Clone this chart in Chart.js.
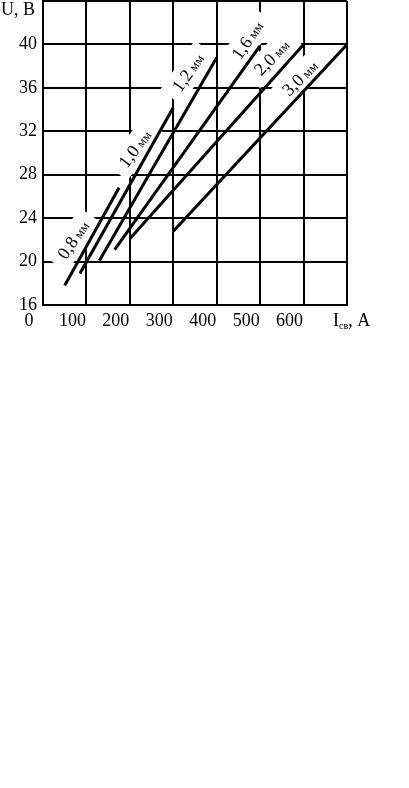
<!DOCTYPE html>
<html>
<head>
<meta charset="utf-8">
<script src="https://cdn.jsdelivr.net/npm/chart.js@4.4.1/dist/chart.umd.min.js"></script>
<style>
    body { margin: 0; background: #fff; }
    #wrap { position: relative; width: 409px; height: 336px; }
</style>
</head>
<body>
<div id="wrap"><canvas id="weldChart"></canvas></div>
<script>
// Electrode wire diameters, one line each
const diameters = ['0,8', '1,0', '1,2', '1,6', '2,0', '3,0'];
// Welding current (A) at both ends of each line
const currentStart = [50, 85, 130, 165, 200, 300];
const currentEnd = [175, 300, 400, 500, 600, 700];
// Arc voltage (V) at both ends of each line
const voltageStart = [17.8, 18.9, 20.1, 21.1, 22.1, 22.8];
const voltageEnd = [26.8, 34.2, 38.8, 39.9, 40, 40];
// Axis ticks
const currentTicks = [0, 100, 200, 300, 400, 500, 600, 700];
const voltageTicks = [16, 20, 24, 28, 32, 36, 40, 44];

// Where the diameter labels sit (data units) and their tilt
const labelAt = [[70, 22], [212, 30.4], [334, 37.4], [471, 40.4], [527, 38.8], [592, 36.9]];
const labelTilt = [55, 53, 55, 55, 46, 45];

const serif = '"Liberation Serif", "DejaVu Serif", serif';

function measureLabel(ctx, num) {
    ctx.font = '18px ' + serif;
    const w1 = ctx.measureText(num).width;
    ctx.font = '13px ' + serif;
    const w2 = ctx.measureText(' мм').width;
    return { w1: w1, w2: w2, total: w1 + w2 };
}

const lineLabels = {
    id: 'lineLabels',
    beforeDatasetsDraw(chart) {
        // white patches behind the labels cut the grid, as on the original
        const ctx = chart.ctx;
        const xs = chart.scales.x, ys = chart.scales.y;
        ctx.save();
        ctx.fillStyle = '#fff';
        diameters.forEach((d, i) => {
            const m = measureLabel(ctx, d);
            const px = xs.getPixelForValue(labelAt[i][0]);
            const py = ys.getPixelForValue(labelAt[i][1]);
            ctx.save();
            ctx.translate(px, py);
            ctx.rotate(-labelTilt[i] * Math.PI / 180);
            ctx.fillRect(-m.total / 2 - 9, -13, m.total + 18, 26);
            ctx.restore();
        });
        ctx.restore();
    },
    afterDatasetsDraw(chart) {
        const ctx = chart.ctx;
        const xs = chart.scales.x, ys = chart.scales.y;
        ctx.save();
        ctx.fillStyle = '#000';
        ctx.textBaseline = 'middle';
        ctx.textAlign = 'left';
        diameters.forEach((d, i) => {
            const m = measureLabel(ctx, d);
            const px = xs.getPixelForValue(labelAt[i][0]);
            const py = ys.getPixelForValue(labelAt[i][1]);
            ctx.save();
            ctx.translate(px, py);
            ctx.rotate(-labelTilt[i] * Math.PI / 180);
            ctx.font = '18px ' + serif;
            ctx.fillText(d, -m.total / 2, 1);
            ctx.font = '13px ' + serif;
            ctx.fillText(' мм', -m.total / 2 + m.w1, 2);
            ctx.restore();
        });
        ctx.restore();
    },
    afterDraw(chart) {
        // axis names: U, В on top of the y axis, Iсв, А after the last x tick
        const ctx = chart.ctx;
        const area = chart.chartArea;
        ctx.save();
        ctx.fillStyle = '#000';
        ctx.textBaseline = 'middle';
        ctx.font = '18px ' + serif;
        ctx.textAlign = 'right';
        ctx.fillText('U, В', area.left - 8, area.top + 9);

        const x0 = chart.scales.x.getPixelForValue(currentTicks[currentTicks.length - 1]) - 14;
        const y0 = chart.scales.x.top + 16;
        ctx.textAlign = 'left';
        ctx.fillText('I', x0, y0);
        let x = x0 + ctx.measureText('I').width;
        ctx.font = '10px ' + serif;
        ctx.fillText('св', x, y0 + 5);
        x += ctx.measureText('св').width;
        ctx.font = '18px ' + serif;
        ctx.fillText(', А', x, y0);
        ctx.restore();
    }
};

const datasets = diameters.map((d, i) => ({
    label: d + ' мм',
    data: [
        { x: currentStart[i], y: voltageStart[i] },
        { x: currentEnd[i], y: voltageEnd[i] }
    ],
    borderColor: '#000',
    borderWidth: 3,
    pointRadius: 0,
    fill: false,
    tension: 0
}));

const ctx = document.getElementById('weldChart').getContext('2d');
window.weldChart = new Chart(ctx, {
    type: 'line',
    data: { datasets: datasets },
    plugins: [lineLabels],
    options: {
        responsive: true,
        maintainAspectRatio: false,
        animation: false,
        layout: { padding: { top: 1, right: 62, left: 0, bottom: 0 } },
        plugins: {
            legend: { display: false },
            tooltip: { enabled: false }
        },
        scales: {
            x: {
                type: 'linear',
                min: currentTicks[0],
                max: currentTicks[currentTicks.length - 1],
                afterBuildTicks: function(scale) {
                    scale.ticks = currentTicks.map(v => ({ value: v }));
                },
                afterFit: function(scale) {
                    scale.height = 31;
                    scale.paddingLeft = 0;
                    scale.paddingRight = 0;
                },
                grid: { color: '#000', lineWidth: 2, drawTicks: false },
                border: { color: '#000', width: 2 },
                ticks: {
                    color: '#000',
                    font: { family: serif, size: 18 },
                    padding: 5,
                    labelOffset: -14,
                    maxRotation: 0,
                    autoSkip: false,
                    callback: function(value) {
                        return value === currentTicks[currentTicks.length - 1] ? '' : value;
                    }
                }
            },
            y: {
                type: 'linear',
                min: voltageTicks[0],
                max: voltageTicks[voltageTicks.length - 1],
                afterBuildTicks: function(scale) {
                    scale.ticks = voltageTicks.map(v => ({ value: v }));
                },
                afterFit: function(scale) {
                    scale.width = 43;
                    scale.paddingTop = 0;
                    scale.paddingBottom = 0;
                },
                grid: { color: '#000', lineWidth: 2, drawTicks: false },
                border: { color: '#000', width: 2 },
                ticks: {
                    color: '#000',
                    font: { family: serif, size: 18 },
                    padding: 6,
                    autoSkip: false,
                    callback: function(value) {
                        return value === voltageTicks[voltageTicks.length - 1] ? '' : value;
                    }
                }
            }
        }
    }
});
</script>
</body>
</html>
